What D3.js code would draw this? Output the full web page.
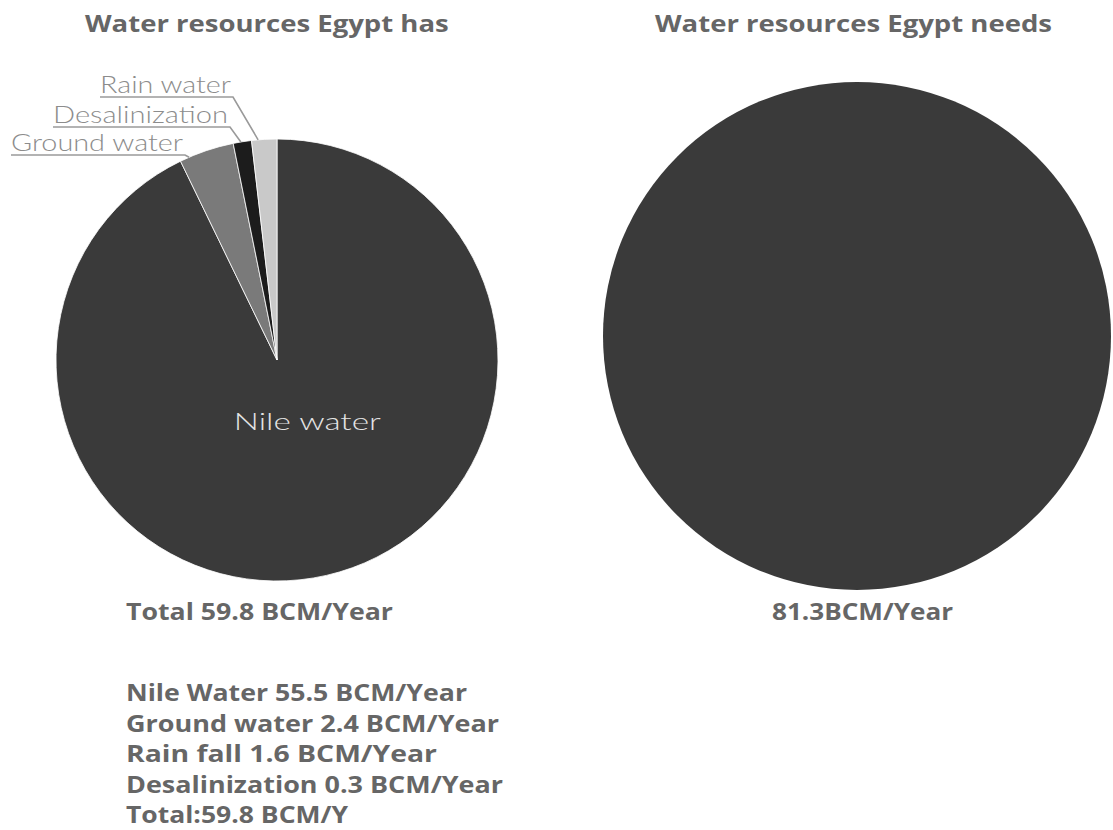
<!DOCTYPE html>
<html>
<head>
<meta charset="utf-8">
<script src="https://cdn.jsdelivr.net/npm/d3@7"></script>
<style>
  html, body { margin: 0; padding: 0; background: #ffffff; }
  svg { display: block; }
</style>
</head>
<body>
<svg id="chart" width="1113" height="830"></svg>
<script>
// Slices of the "has" pie, clockwise from 12 o'clock
const sourceNames  = ["Nile water", "Ground water", "Desalinization", "Rain water"];
const sourceValues = [55.5, 2.4, 0.8, 1.1];
const sourceColors = ["#3a3a3a", "#7a7a7a", "#1c1c1c", "#c9c9c9"];

// The "needs" pie has a single slice
const needNames  = ["Needs"];
const needValues = [81.3];

const titleLeft  = "Water resources Egypt has";
const titleRight = "Water resources Egypt needs";
const totalLeft  = "Total 59.8 BCM/Year";
const totalRight = "81.3BCM/Year";
const breakdownLines = [
  "Nile Water 55.5 BCM/Year",
  "Ground water 2.4 BCM/Year",
  "Rain fall 1.6 BCM/Year",
  "Desalinization 0.3 BCM/Year",
  "Total:59.8 BCM/Y"
];

const svg = d3.select("#chart");
const boldFont  = "'Open Sans', 'DejaVu Sans', sans-serif";
const lightFont = "Lato, 'Open Sans', sans-serif";
const textGrey  = "#666666";
const labelGrey = "#8c8c8c";

// ---------- left pie ----------
const L = { cx: 277, cy: 360, r: 221 };
const pie = d3.pie().sort(null).value(d => d.value);
const srcData = sourceNames.map((n, i) => ({ name: n, value: sourceValues[i], color: sourceColors[i] }));
const srcArcs = pie(srcData);
const arc = d3.arc().innerRadius(0).outerRadius(L.r);

const gL = svg.append("g").attr("transform", `translate(${L.cx},${L.cy})`);
gL.selectAll("path.slice")
  .data(srcArcs)
  .join("path")
  .attr("class", "slice")
  .attr("d", arc)
  .attr("fill", d => d.data.color)
  .attr("stroke", "#ffffff")
  .attr("stroke-width", 0.8)
  .attr("stroke-linejoin", "round");

// Label inside the big slice
const nileArc = srcArcs[0];
const midNile = (nileArc.startAngle + nileArc.endAngle) / 2;
gL.append("text")
  .attr("x", Math.sin(midNile) * 64 + 16)
  .attr("y", -Math.cos(midNile) * 64 + 8)
  .attr("text-anchor", "middle")
  .attr("font-family", lightFont)
  .attr("font-weight", 300)
  .attr("font-size", 24)
  .attr("fill", "#e4e4e4")
  .attr("textLength", 147)
  .attr("lengthAdjust", "spacingAndGlyphs")
  .text(nileArc.data.name);

// Outside labels for the small slices: underlined text plus a leader line
const calloutLayout = {
  "Rain water":     { x0: 100, x1: 233, y: 93,  frac: 0.26 },
  "Desalinization": { x0: 53,  x1: 230, y: 123, frac: 0.42 },
  "Ground water":   { x0: 11,  x1: 185, y: 151, frac: 0.17 }
};
srcArcs.slice(1).forEach(a => {
  const lay = calloutLayout[a.data.name];
  const ang = a.startAngle + lay.frac * (a.endAngle - a.startAngle);
  const tx = L.cx + Math.sin(ang) * L.r;
  const ty = L.cy - Math.cos(ang) * L.r;
  const uy = lay.y + 4;
  svg.append("polyline")
    .attr("points", `${lay.x0},${uy} ${lay.x1},${uy} ${tx},${ty}`)
    .attr("fill", "none")
    .attr("stroke", "#9a9a9a")
    .attr("stroke-width", 1.6);
  svg.append("text")
    .attr("x", lay.x0)
    .attr("y", lay.y)
    .attr("font-family", lightFont)
    .attr("font-weight", 300)
    .attr("font-size", 24)
    .attr("fill", labelGrey)
    .attr("textLength", lay.x1 - lay.x0 - 2)
    .attr("lengthAdjust", "spacingAndGlyphs")
    .text(a.data.name);
});

// ---------- right pie ----------
const R = { cx: 857, cy: 336, r: 254 };
const needArcs = pie(needNames.map((n, i) => ({ name: n, value: needValues[i] })));
svg.append("g")
  .attr("transform", `translate(${R.cx},${R.cy})`)
  .selectAll("path")
  .data(needArcs)
  .join("path")
  .attr("d", d3.arc().innerRadius(0).outerRadius(R.r))
  .attr("fill", "#3a3a3a");

// ---------- text blocks ----------
function boldText(str, x, y, width, anchor) {
  const t = svg.append("text")
    .attr("x", x)
    .attr("y", y)
    .attr("text-anchor", anchor || "start")
    .attr("font-family", boldFont)
    .attr("font-weight", 700)
    .attr("font-size", 24)
    .attr("fill", textGrey)
    .text(str);
  if (width) t.attr("textLength", width).attr("lengthAdjust", "spacingAndGlyphs");
  return t;
}

// Both titles share one horizontal scale so they read at the same size
const tR = boldText(titleRight, 655, 32);
const tL = boldText(titleLeft, 85, 32);
const titleScale = 397 / tR.node().getComputedTextLength();
tR.attr("textLength", 397).attr("lengthAdjust", "spacingAndGlyphs");
tL.attr("textLength", tL.node().getComputedTextLength() * titleScale)
  .attr("lengthAdjust", "spacingAndGlyphs");

boldText(totalLeft, 126, 620, 267);
boldText(totalRight, 772, 620, 181);

const listWidths = [341, 373, 311, 377, 222];
breakdownLines.forEach((s, i) => {
  boldText(s, 126, 701 + i * 30.6, listWidths[i]);
});
</script>
</body>
</html>
